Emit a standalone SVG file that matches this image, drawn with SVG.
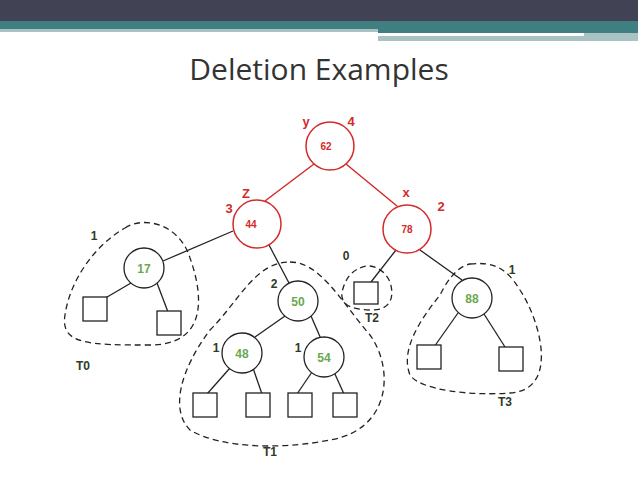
<svg xmlns="http://www.w3.org/2000/svg" width="638" height="478" viewBox="0 0 638 478">
<style>
.r{fill:#fff;stroke:#d42a2a;stroke-width:1.5}
.g{fill:#fff;stroke:#222;stroke-width:1.3}
.sq{fill:#fff;stroke:#222;stroke-width:1.3}
.e{stroke:#222;stroke-width:1.3}
.re{stroke:#d42a2a;stroke-width:1.5}
.d{fill:none;stroke:#222;stroke-width:1.3;stroke-dasharray:6 4}
.rt{fill:#d42a2a;font:bold 10px "Liberation Sans",sans-serif;text-anchor:middle}
.rl{fill:#d42a2a;font:bold 13px "Liberation Sans",sans-serif;text-anchor:middle}
.gt{fill:#6aa84f;font:bold 12px "Liberation Sans",sans-serif;text-anchor:middle}
.bl{fill:#2f3a2a;font:bold 12px "Liberation Sans",sans-serif;text-anchor:middle}
</style>
<rect width="638" height="478" fill="#fff"/>
<rect width="638" height="21" fill="#414354"/>
<rect y="21" width="638" height="8" fill="#3f7f82"/>
<rect y="29" width="378" height="3" fill="#a9c3c4"/>
<rect x="378" y="29" width="260" height="4" fill="#3f7f82"/>
<rect x="378" y="36" width="206" height="5" fill="#a9c3c4"/>
<rect x="584" y="33" width="54" height="8" fill="#a9c3c4"/>
<text x="319" y="80" font-family="Open Sans,Liberation Sans,sans-serif" font-size="30" fill="#333" text-anchor="middle">Deletion Examples</text>
<g id="connectors">
<line class="re" x1="314" y1="164" x2="265" y2="201"/>
<line class="re" x1="346" y1="164" x2="397" y2="206"/>
<line class="e" x1="233" y1="231" x2="163" y2="261"/>
<line class="e" x1="269" y1="245" x2="289" y2="283"/>
<line class="e" x1="396" y1="250" x2="371" y2="282"/>
<line class="e" x1="420" y1="250" x2="462" y2="280"/>
<line class="e" x1="131" y1="283" x2="102" y2="300"/>
<line class="e" x1="157" y1="283" x2="168" y2="312"/>
<line class="e" x1="285" y1="316" x2="255" y2="337"/>
<line class="e" x1="311" y1="316" x2="321" y2="339"/>
<line class="e" x1="458" y1="313" x2="434" y2="347"/>
<line class="e" x1="484" y1="314" x2="505" y2="347"/>
<line class="e" x1="230" y1="368" x2="207" y2="394"/>
<line class="e" x1="253" y1="368" x2="262" y2="394"/>
<line class="e" x1="312" y1="372" x2="297" y2="394"/>
<line class="e" x1="334" y1="372" x2="344" y2="394"/>
</g>
<g id="n62"><circle class="r" cx="330" cy="146" r="24"/><text class="rt" x="326" y="150">62</text><text class="rl" x="306" y="126">y</text><text class="rl" x="351" y="126">4</text></g>
<g id="n44"><circle class="r" cx="257" cy="224" r="24"/><text class="rt" x="251" y="228">44</text><text class="rl" x="246" y="198">Z</text><text class="rl" x="229" y="213">3</text></g>
<g id="n78"><circle class="r" cx="407" cy="229" r="24"/><text class="rt" x="407" y="233">78</text><text class="rl" x="406" y="197">x</text><text class="rl" x="441" y="211">2</text></g>
<g id="n17"><circle class="g" cx="144" cy="268" r="20"/><text class="gt" x="144" y="273">17</text><text class="bl" x="94" y="240">1</text></g>
<g id="n50"><circle class="g" cx="298" cy="301" r="20"/><text class="gt" x="298" y="306">50</text><text class="bl" x="274" y="288">2</text></g>
<g id="n48"><circle class="g" cx="242" cy="353" r="20"/><text class="gt" x="242" y="358">48</text><text class="bl" x="216" y="352">1</text></g>
<g id="n54"><circle class="g" cx="324" cy="357" r="20"/><text class="gt" x="324" y="362">54</text><text class="bl" x="298" y="352">1</text></g>
<g id="n88"><circle class="g" cx="472" cy="298" r="20"/><text class="gt" x="472" y="303">88</text><text class="bl" x="512" y="274">1</text></g>
<g id="leaves">
<rect class="sq" x="83" y="297" width="24" height="24"/>
<rect class="sq" x="157" y="311" width="24" height="24"/>
<rect class="sq" x="354" y="282" width="24" height="22"/>
<rect class="sq" x="417" y="345" width="24" height="24"/>
<rect class="sq" x="499" y="347" width="24" height="24"/>
<rect class="sq" x="193" y="393" width="24" height="24"/>
<rect class="sq" x="246" y="393" width="24" height="24"/>
<rect class="sq" x="288" y="393" width="24" height="24"/>
<rect class="sq" x="333" y="393" width="24" height="24"/>
</g>
<g id="hulls">
<path class="d" d="M125,228 C145,215 180,225 190,258 C205,300 205,345 150,345 C90,345 60,345 65,315 C70,280 95,245 125,228 Z"/>
<path class="d" d="M290,262 C320,262 340,300 370,335 C395,370 390,430 330,440 C280,450 220,448 190,430 C170,410 180,370 210,330 C240,300 255,262 290,262 Z"/>
<path class="d" d="M360,268 C372,262 385,270 390,282 C395,298 390,310 372,310 C352,310 340,305 342,292 C345,280 350,272 360,268 Z"/>
<path class="d" d="M470,264 C490,262 505,265 520,290 C540,320 560,390 510,393 C470,396 420,390 410,375 C400,350 420,320 440,295 C450,275 460,266 470,264 Z"/>
</g>
<g id="labels">
<text class="bl" x="346" y="260">0</text>
<text class="bl" x="83" y="370">T0</text>
<text class="bl" x="372" y="322">T2</text>
<text class="bl" x="505" y="406">T3</text>
<text class="bl" x="270" y="456">T1</text>
</g>
</svg>
